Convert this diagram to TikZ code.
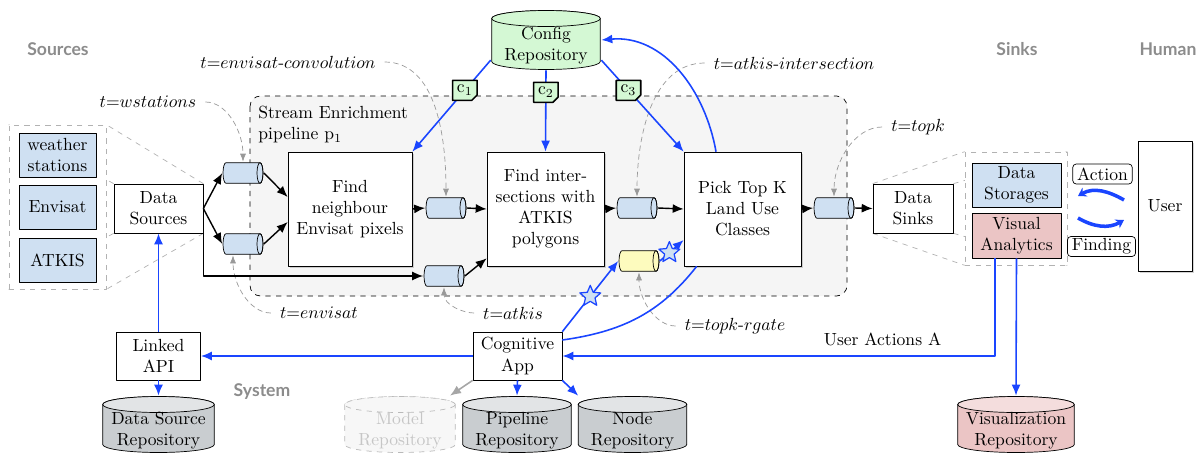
\documentclass[tikz,border=0pt]{standalone}
\usepackage{fontspec}
\newfontfamily\headfont{Lato}
\usetikzlibrary{arrows.meta,calc,shapes.geometric,shapes.misc,shadows,backgrounds}

\definecolor{qblue}{HTML}{CFE0F2}
\definecolor{cgreen}{HTML}{D4F8D4}
\definecolor{vpink}{HTML}{EBC5C5}
\definecolor{vpinktop}{HTML}{F4DDDD}
\definecolor{rgray}{HTML}{C9CDD0}
\definecolor{rgraytop}{HTML}{E2E4E6}
\definecolor{qyellow}{HTML}{FDFBBE}
\definecolor{ctrlblue}{HTML}{1A45FF}
\definecolor{headgray}{HTML}{8C8C8C}

% two-line text sitting in the body of a repository
\newcommand{\repotext}[1]{\raisebox{-5.9pt}[0pt][0pt]{\begin{tabular}{@{}c@{}}#1\end{tabular}}}

\begin{document}
\begin{tikzpicture}[
    x=0.02cm,y=0.02cm,
    line join=round,
    >={Latex[length=2.2mm,width=1.8mm]},
    head/.style={font=\headfont\bfseries, text=headgray},
    grp/.style={draw=gray!60, dashed, fill=white},
    zoomline/.style={draw=gray!60, dashed},
    srcbox/.style={draw, fill=qblue, minimum width=1.54cm, minimum height=0.88cm, align=center, inner sep=1pt},
    plainbox/.style={draw, fill=white, minimum height=0.98cm, align=center, inner sep=1pt},
    procbox/.style={draw, fill=white, drop shadow={opacity=0.35,shadow xshift=1.2pt,shadow yshift=-1.2pt},
        minimum height=2.28cm, align=center},
    % horizontal queue cylinder
    queue/.style={minimum width=0.82cm, minimum height=0.44cm, inner sep=0pt,
        path picture={
          \draw[fill=#1] let \p1=(path picture bounding box.north west),
              \p2=(path picture bounding box.south east), \n1={(\y1-\y2)/2-0.4pt} in
            (\x2-0.07cm,\y1-0.4pt) -- (\x1+0.07cm,\y1-0.4pt)
            arc[start angle=90, end angle=270, x radius=0.06cm, y radius=\n1]
            -- (\x2-0.07cm,\y2+0.4pt)
            arc[start angle=-90, end angle=90, x radius=0.06cm, y radius=\n1] -- cycle;
          \draw let \p1=(path picture bounding box.north west),
              \p2=(path picture bounding box.south east), \n1={(\y1-\y2)/2-0.4pt} in
            (\x2-0.07cm,{(\y1+\y2)/2}) ellipse[x radius=0.06cm, y radius=\n1];
        }},
    queue/.default=qblue,
    % upright repository cylinder: body colour, top colour, line
    repo/.style n args={3}{minimum width=2.26cm, minimum height=1.14cm, inner sep=0pt,
        path picture={
          \draw[#3, fill=#1] let \p1=(path picture bounding box.north west),
              \p2=(path picture bounding box.south east), \n1={(\x2-\x1)/2-0.4pt} in
            (\x1+0.4pt,\y1-0.17cm) -- (\x1+0.4pt,\y2+0.17cm)
            arc[start angle=180, end angle=360, x radius=\n1, y radius=0.16cm]
            -- (\x2-0.4pt,\y1-0.17cm)
            arc[start angle=0, end angle=180, x radius=\n1, y radius=0.16cm] -- cycle;
          \draw[#3, fill=#2] let \p1=(path picture bounding box.north west),
              \p2=(path picture bounding box.south east), \n1={(\x2-\x1)/2-0.4pt} in
            ({(\x1+\x2)/2},\y1-0.17cm) ellipse[x radius=\n1, y radius=0.16cm];
        }},
    cnote/.style={chamfered rectangle, chamfered rectangle corners=south east, chamfered rectangle xsep=1.5pt,
        chamfered rectangle ysep=1.5pt, draw=black, fill=cgreen, text=black, inner sep=1pt, minimum size=0.4cm},
    tlabel/.style={inner sep=1pt},
    tarrow/.style={->, >={Latex[length=1.6mm,width=1.2mm]}, draw=gray!80, densely dashed, shorten <=4pt},
    flow/.style={->, line width=0.8pt},
    ctrl/.style={->, draw=ctrlblue, line width=0.9pt},
    ctrlline/.style={draw=ctrlblue, line width=0.9pt},
    starmark/.style={star, star points=5, star point ratio=2.2, draw=ctrlblue, fill=qblue, minimum size=0.44cm,
        inner sep=0pt, line width=0.7pt},
    tag/.style={draw, rounded corners=2pt, inner xsep=2.5pt, inner ysep=1pt, minimum height=0.4cm},
    loop/.style={->, >={Stealth[length=1.6mm,width=2mm]}, draw=ctrlblue, line width=2pt}
]
\useasboundingbox (0,0) rectangle (1199,454);

% headings
\node[head] (hsrc) at (58,405) {Sources};
\node[head] (hsink) at (1017,405) {Sinks};
\node[head] (hhum) at (1168,405) {Human};
\node[head] (hsys) at (262,62) {System};

% sources
\node[grp, minimum width=1.94cm, minimum height=3.28cm] (srcgrp) at (57.5,247) {};
\node[srcbox] (wst) at (57.5,299) {weather\\stations};
\node[srcbox] (env) at (57.5,247) {Envisat};
\node[srcbox] (atk) at (57.5,194) {ATKIS};
\node[plainbox, minimum width=1.78cm] (ds) at (158.5,245.5) {Data\\Sources};

% pipeline
\node[anchor=north west, align=left, inner sep=0pt] (pipelbl) at (258,348) {Stream Enrichment\\pipeline p$_1$};
\node[procbox, minimum width=2.48cm] (p1) at (350,245) {Find\\neighbour\\Envisat pixels};
\node[procbox, minimum width=2.34cm] (p2) at (545.5,245) {Find inter-\\sections with\\ATKIS\\polygons};
\node[procbox, minimum width=2.34cm] (p3) at (742.5,245) {Pick Top K\\Land Use\\Classes};

\node[queue] (q1) at (243,281) {};
\node[queue] (q2) at (243,210) {};
\node[queue] (q3) at (446,246) {};
\node[queue] (q4) at (444,178) {};
\node[queue] (q5) at (637,246) {};
\node[queue=qyellow] (q6) at (639,193) {};
\node[queue] (q7) at (834,246) {};

\node[repo={cgreen}{cgreen}{draw=black}, minimum width=2.2cm, minimum height=1.2cm]
    (cfg) at (546,414) {\repotext{Config\\Repository}};

% sinks and user
\node[plainbox, minimum width=1.6cm] (dsk) at (913,245.5) {Data\\Sinks};
\node[grp, minimum width=2.04cm, minimum height=2.26cm] (snkgrp) at (1016,245.5) {};
\node[srcbox, minimum width=1.78cm] (stor) at (1016.5,269) {Data\\Storages};
\node[srcbox, fill=vpink, minimum width=1.78cm, minimum height=0.9cm] (va) at (1016.5,218.5) {Visual\\Analytics};
\node[draw, fill=white, drop shadow={opacity=0.35,shadow xshift=1.2pt,shadow yshift=-1.2pt},
    minimum width=1.08cm, minimum height=2.6cm] (user) at (1165,248) {User};
\node[tag] (act) at (1102.5,280) {Action};
\node[tag] (fin) at (1101.5,207.5) {Finding};
\coordinate (actR) at (1124,254);
\coordinate (actL) at (1078,258);
\coordinate (finL) at (1078,236);
\coordinate (finR) at (1124,234);
\draw[loop] (actR) to[out=150,in=30] (actL);
\draw[loop] (finL) to[out=-30,in=-150] (finR);

% system
\node[plainbox, minimum width=1.78cm, minimum height=0.96cm] (cog) at (517.5,98) {Cognitive\\App};
\node[plainbox, minimum width=1.68cm, minimum height=0.96cm] (api) at (158.5,98) {Linked\\API};
\node[repo={rgray}{rgraytop}{draw=black}] (dsrepo) at (158.5,29.5) {\repotext{Data Source\\Repository}};
\node[repo={gray!6}{gray!6}{draw=gray!55,dashed}, text=gray!45, minimum width=2.24cm]
    (mrepo) at (400,29.5) {\repotext{Model\\Repository}};
\node[repo={rgray}{rgraytop}{draw=black}, minimum width=2.2cm] (prepo) at (517,29.5) {\repotext{Pipeline\\Repository}};
\node[repo={rgray}{rgraytop}{draw=black}, minimum width=2.2cm] (nrepo) at (632.5,29.5) {\repotext{Node\\Repository}};
\node[repo={vpink}{vpinktop}{draw=black}, minimum width=2.36cm]
    (vrepo) at (1016,29.5) {\repotext{Visualization\\Repository}};

% topic labels
\node[tlabel] (twst) at (148,352) {$t{=}wstations$};
\node[tlabel] (tconv) at (288,392) {$t{=}envisat\mbox{-}convolution$};
\node[tlabel] (tinter) at (794,391) {$t{=}atkis\mbox{-}intersection$};
\node[tlabel] (ttopk) at (918,327) {$t{=}topk$};
\node[tlabel] (tenv) at (319,141) {$t{=}envisat$};
\node[tlabel] (tatk) at (513,141) {$t{=}atkis$};
\node[tlabel] (trgate) at (735,128) {$t{=}topk\mbox{-}rgate$};

\draw[tarrow] (twst.east) to[out=0,in=90] (q1.north);
\draw[tarrow] (tconv.east) to[out=0,in=90] (q3.north);
\draw[tarrow] (tinter.west) to[out=180,in=90] (q5.north);
\draw[tarrow] (ttopk.west) to[out=180,in=90] (q7.north);
\draw[tarrow] (tenv.west) to[out=180,in=-90] ([xshift=-0.2cm]q2.south);
\draw[tarrow] (tatk.west) to[out=180,in=-90] (q4.south);
\draw[tarrow] (trgate.west) to[out=180,in=-90] (q6.south);

% data flow
\draw[flow] (ds.east) -- (q1.west);
\draw[flow] (ds.east) -- (q2.west);
\draw[flow] (ds.south east) |- (q4.west);
\draw[flow] (q1.east) -- ([yshift=0.24cm]p1.west);
\draw[flow] (q2.east) -- ([yshift=-0.26cm]p1.west);
\draw[flow] (p1.east) -- (q3.west);
\draw[flow] (q3.east) -- (p2.west);
\draw[flow] (q4.east) -- ([yshift=0.16cm]p2.south west);
\draw[flow] (p2.east) -- (q5.west);
\draw[flow] (q5.east) -- (p3.west);
\draw[flow] (p3.east) -- (q7.west);
\draw[flow] (q7.east) -- (dsk.west);

% configuration and control
\draw[ctrl] (cfg.200) -- node[cnote, pos=0.33] (c1) {c$_1$} (p1.north east);
\draw[ctrl] (cfg.south) -- node[cnote, pos=0.27] (c2) {c$_2$} (p2.north);
\draw[ctrl] (cfg.340) -- node[cnote, pos=0.33] (c3) {c$_3$} (p3.north west);
\draw[ctrl] ([xshift=-0.53cm]p3.north) to[out=100,in=5] (cfg.east);

\draw[ctrl] (api.north) -- (ds.south);
\draw[ctrl] (api.south) -- (dsrepo.north);
\draw[ctrl] (cog.west) -- (api.east);
\draw[ctrl] ([xshift=-0.43cm]va.south) |- node[pos=0.63, above=2pt] (ua) {User Actions A} (cog.east);
\draw[ctrl] (va.south) -- (vrepo.north);

\draw[->, draw=gray!70, line width=0.9pt] (cog.south west) -- (mrepo.30);
\draw[ctrl] (cog.south) -- (prepo.north);
\draw[ctrl] (cog.south east) -- (nrepo.152);

\draw[ctrl] (cog.north east) -- node[starmark, pos=0.5] (s1) {} (q6.west);
\draw[ctrl] (q6.east) -- node[starmark, pos=0.4] (s2) {} ([yshift=-0.62cm]p3.west);
\draw[ctrlline] ([yshift=0.32cm]cog.east) to[out=8,in=-128] ([xshift=0.26cm]p3.south west);

\begin{scope}[on background layer]
  \draw[dashed, rounded corners=6pt, fill=gray!8] (250,358) rectangle (847,158);
  \draw[zoomline] (ds.north west) -- (srcgrp.north west);
  \draw[zoomline] (ds.north east) -- (srcgrp.north east);
  \draw[zoomline] (ds.south west) -- (srcgrp.south west);
  \draw[zoomline] (ds.south east) -- (srcgrp.south east);
  \draw[zoomline] (dsk.north west) -- (snkgrp.north west);
  \draw[zoomline] (dsk.north east) -- (snkgrp.north east);
  \draw[zoomline] (dsk.south west) -- (snkgrp.south west);
  \draw[zoomline] (dsk.south east) -- (snkgrp.south east);
\end{scope}
\end{tikzpicture}
\end{document}
